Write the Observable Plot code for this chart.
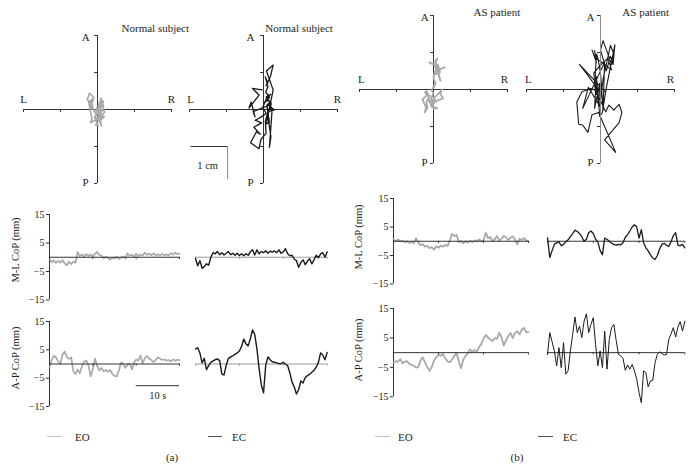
<!DOCTYPE html>
<html>
<head>
<meta charset="utf-8">
<script src="https://cdn.jsdelivr.net/npm/d3@7"></script>
<script src="https://cdn.jsdelivr.net/npm/@observablehq/plot@0.6"></script>
<style>
  html, body { margin:0; padding:0; background:#fff; }
  #fig { position:relative; width:691px; height:470px; overflow:hidden; background:#fff;
         font-family:"Liberation Serif","DejaVu Serif",serif; color:#231f20; }
  #fig .box { position:absolute; }
  #fig .txt { position:absolute; font-size:11px; line-height:11px; white-space:nowrap; }
  #fig .ylab { position:absolute; font-size:10.5px; line-height:11px; white-space:nowrap;
               transform: translate(-50%,-50%) rotate(-90deg); }
  #fig .sw { position:absolute; height:0; }
</style>
</head>
<body>
<div id="fig"></div>
<script>
// ---------------- data (mm, sampled every 0.5 s over 30 s) ----------------
const sampleStep = 0.5;
const timeTicks = [0, 10, 20, 30];
const yTicks = [15, 5, -5, -15];
const stabTicks = [-20, -10, 10, 20];
const stabRange = [-20, 20];
const conditions = ["EO", "EC"];
const panelTags = ["(a)", "(b)"];
const subjects = ["Normal subject", "AS patient"];
const yLabels = ["M-L CoP (mm)", "A-P CoP (mm)"];

const mlNormalEO = [-0.5,-1.8,-1.2,-2.0,-1.3,-1.9,-1.0,-2.2,-2.8,-1.6,-2.4,-1.5,-1.9,
  1.8,0.4,1.0,0.2,1.1,0.5,1.0,0.3,1.2,1.9,0.8,0.6,-0.4,0.2,-0.3,-0.8,-0.1,-0.5,0.2,-0.6,-0.2,0.3,-0.4,
  1.4,0.5,0.9,0.2,1.2,0.4,1.0,0.6,1.6,0.8,1.3,0.7,1.4,0.6,1.1,0.5,1.2,0.7,1.0,0.6,1.5,0.9,1.6,1.1,1.3];
const apNormalEO = [-1.2,1.4,2.9,2.3,0.9,0,3.3,4.4,2.6,1.8, 2.3,-2.6,-3.5,-1.9,-3.3,-0.9,0.9,1.2,-0.5,-4.4,
  -1.8,1.9,-0.7,-2.3,-1.4,-2.6,-2.1,-2.8,-2.1,-3.5, -4.2,-4.4,-2.3,0.5,0,-1.4,-0.2,0.2,-1.9,0.5,
  1.6,1.2,3.0,0.2,2.1,2.8,1.9,1.4,0.7,1.4, 2.3,1.9,1.4,1.6,1.2,1.4,0.9,1.6,1.2,1.5, 1.4];
const mlNormalEC = [-0.4,-3.0,-1.2,-3.9,-3.3,-2.3,-2.8,0,1.6,1.2, 2.0,0.9,1.6,0.8,1.4,2.0,0.9,1.4,0.7,1.4,
  0.6,1.2,0.5,1.2,0.7,1.9,2.6,0.8,2.6,1.2, 2.0,1.6,2.3,1.4,2.1,1.8,2.2,1.6,2.6,1.4,
  1.9,3.0,1.2,0.5,0.7,-0.7,-1.2,-3.5,-1.9,-0.9, -2.6,-1.4,-0.5,-2.3,-0.9,0.7,-0.2,1.2,1.6,0, 1.9];
const apNormalEC = [5.3,5.7,3.9,0.4,2.0,-2.0,-0.6,0.6,1.1,1.5, 1.8,1.2,-3.5,-3.9,-0.4,2.0,2.5,2.9,3.4,3.9,
  4.6,6.2,8.8,7.1,6.4,9.0,12.0,10.4,5.3,-1.8, -7.4,-10.2,-0.4,2.5,1.5,0.8,0.6,0.4,0.1,0.1,
  0.6,-0.1,-0.6,-3.2,-6.4,-8.1,-10.6,-9.0,-6.0,-6.7, -4.8,-4.1,-3.6,-2.9,-2.2,-1.1,0.6,3.9,3.2,1.5, 4.1];
const mlPatientEO = [0.7,0,0.6,0,0.2,-0.3,0,-0.6,-0.2,-0.7, 1.0,-0.3,-1.4,-1.0,-1.9,-1.6,-2.4,-2.0,-3.0,-1.8,
  -2.3,-1.5,-1.9,-1.3,-1.6,0.2,2.6,1.8,2.3,-0.3, 0.1,-0.7,0,-0.5,0.2,-0.3,0.3,-0.1,0.6,0,
  0.3,3.0,1.1,1.5,0,0.7,1.8,0.2,0.9,1.9, 1.4,0.5,1.2,1.7,0.7,-1.1,0.9,0.5,1.1,0.3, -0.1];
const apPatientEO = [-3.3,-2.9,-3.1,-2.2,-3.6,-3.1,-2.9,-3.8,-4.2,-4.4, -5.1,-4.9,-2.7,-1.6,-3.3,-4.9,-6.2,-4.9,-2.7,-1.6,
  -0.7,-1.1,-0.4,-2.0,-2.9,-3.3,-2.4,-1.1,0,-2.9, -5.3,-2.4,-1.1,-0.2,1.1,0.2,0.9,0.4,1.8,2.9,
  4.7,6.0,5.2,4.4,4.0,4.9,4.7,6.7,5.3,2.4, 4.2,5.6,6.7,4.9,6.7,7.3,6.2,7.8,8.4,6.9, 7.1];
const mlPatientEC = [1.2,-5.7,-3.3,-1.1,-0.5,-0.2,-1.6,-1.1,-0.2,0.5, 1.6,2.7,3.9,3.4,2.7,1.6,0,0.7,3.0,3.6,
  2.7,0.7,-0.2,-3.3,-4.8,1.1,0.7,0,-0.7,-1.1, -1.4,-1.1,-1.25,-0.5,1.4,2.3,3.6,5.0,5.8,5.0,
  1.1,4.1,-0.5,-2.3,-3.4,-4.8,-5.9,-6.4,-5.0,-2.7, -1.1,-0.7,-1.4,-1.8,-0.2,2.0,3.0,-1.4,-1.6,-1.1, -2.3];
const apPatientEC = [-0.6,6.8,3.7,0.6,-4.5,1.7,-5.1,3.4,-7.3,-6.2, 0.6,6.2,12.1,6.8,9.0,5.1,10.7,13.2,6.8,9.6,
  11.9,2.8,-4.5,0.6,-5.1,7.3,-5.6,4.5,8.5,9.6, 4.2,-0.6,-1.1,-1.9,-6.0,-4.2,-5.6,-4.0,-6.2,-9.0,
  -13.6,-17.0,-6.2,-6.8,-11.6,-9.6,-9.4,-3.4,-0.6,0.3, -0.3,-0.8,-0.6,4.5,6.4,8.5,5.3,8.7,10.5,7.3, 10.7];

const times = mlNormalEO.map((_, i) => i * sampleStep);

// ---------------- helpers ----------------
const FONT = '"Liberation Serif","DejaVu Serif",serif';
const INK = "#231f20";
const EO_COLOR = "#a7a9ac";
const EC_COLOR = "#1a1a1a";
const fig = document.getElementById("fig");

function place(svg, left, top, w) {
  const d = document.createElement("div");
  d.className = "box";
  d.style.left = left + "px";
  d.style.top = top + "px";
  d.style.width = w + "px";
  d.appendChild(svg);
  fig.appendChild(d);
}
function baseStyle() {
  return {background: "transparent", fontFamily: FONT, fontSize: "10px", color: INK, overflow: "visible", maxWidth: "none"};
}

function seriesPlot(values, o) {
  const ml = o.yAxis ? 40 : 4, mr = 4, mt = 8, mb = 8;
  const rows = values.map((v, i) => ({t: times[i], v}));
  const zero = [
    Plot.ruleY([0], {x1: timeTicks[0], x2: timeTicks[timeTicks.length - 1], stroke: o.zeroColor, strokeWidth: 1}),
    Plot.ruleX(timeTicks, {x: d => d, y1: 0, y2: -0.75, stroke: o.zeroColor, strokeWidth: 1})
  ];
  const trace = Plot.line(rows, {x: "t", y: "v", stroke: o.color, strokeWidth: o.width, strokeLinejoin: "round"});
  const marks = o.zeroOnTop ? [trace, ...zero] : [...zero, trace];
  if (o.yAxis) {
    marks.unshift(Plot.ruleX([0], {y1: yTicks[yTicks.length - 1], y2: yTicks[0], stroke: "#333", strokeWidth: 1}));
    marks.push(Plot.axisY({ticks: yTicks, anchor: "left", tickSize: 3, tickPadding: 2, label: null, stroke: "#333"}));
  }
  if (o.extra) marks.push(...o.extra);
  const W = ml + o.w + mr, H = mt + o.h + mb;
  const svg = Plot.plot({
    width: W, height: H,
    marginLeft: ml, marginRight: mr, marginTop: mt, marginBottom: mb,
    x: {domain: [0, 30], axis: null},
    y: o.yAxis ? {domain: [-15, 15]} : {domain: [-15, 15], axis: null},
    style: baseStyle(),
    marks
  });
  place(svg, o.left - ml, o.top - mt, W);
}

function stabPlot(mlv, apv, o) {
  const m = 26, S = 148;
  const rows = mlv.map((x, i) => ({x, y: apv[i]}));
  const [lo, hi] = stabRange;
  const axes = [
    Plot.ruleY([0], {x1: lo, x2: hi, stroke: "#333", strokeWidth: 1}),
    Plot.ruleX(stabTicks, {x: d => d, y1: 0, y2: -0.8, stroke: "#333", strokeWidth: 1}),
    Plot.ruleY(stabTicks, {y: d => d, x1: 0, x2: -0.8, stroke: "#333", strokeWidth: 1})
  ];
  const vAxis = Plot.ruleX([0], {y1: lo, y2: hi, stroke: o.vColor || "#333", strokeWidth: 1});
  const trace = Plot.line(rows, {x: "x", y: "y", stroke: o.color, strokeWidth: o.width, strokeLinejoin: "round"});
  const marks = o.vOnTop ? [...axes, trace, vAxis] : [...axes, vAxis, trace];
  marks.push(
    Plot.text(o.labels, {x: "x", y: "y", text: "text", fontSize: 11, fill: INK}),
    Plot.text([o.title], {x: "x", y: "y", text: "text", textAnchor: "start", fontSize: 11, fill: INK})
  );
  if (o.extra) marks.push(...o.extra);
  const svg = Plot.plot({
    width: S + 2 * m, height: S + 2 * m, margin: m,
    x: {domain: stabRange, axis: null},
    y: {domain: stabRange, axis: null},
    style: baseStyle(),
    marks
  });
  place(svg, o.left - m, o.top - m, S + 2 * m);
}

function dirLabels(ax, lx, rx, ly) {
  return [{x: ax, y: 19.5, text: "A"}, {x: ax, y: -19.6, text: "P"},
          {x: lx, y: ly, text: "L"}, {x: rx, y: ly, text: "R"}];
}

// ---------------- stabilograms ----------------
stabPlot(mlNormalEO, apNormalEO, {left: 23, top: 34.5, color: EO_COLOR, width: 1.7,
  labels: dirLabels(-3.2, -20, 20, 2.8), title: {x: 6.5, y: 21.8, text: subjects[0]}});
const cmBar = [{x1: -19.6, x2: -9.7, y: -10}];
const cmBarV = [{x: -9.7, y1: -10, y2: -19}];
stabPlot(mlNormalEC, apNormalEC, {left: 189.3, top: 34.5, color: EC_COLOR, width: 1.3,
  labels: dirLabels(-3.5, -19.7, 20, 2.8), title: {x: 0.5, y: 21.8, text: subjects[0]},
  extra: [
    Plot.ruleY(cmBar, {x1: "x1", x2: "x2", y: "y", stroke: "#333", strokeWidth: 1}),
    Plot.ruleX(cmBarV, {x: "x", y1: "y1", y2: "y2", stroke: "#888", strokeWidth: 1}),
    Plot.text([{x: -15.1, y: -15.3, text: "1 cm"}], {x: "x", y: "y", text: "text", fontSize: 10.5, fill: INK})
  ]});
stabPlot(mlPatientEO, apPatientEO, {left: 359, top: 15, color: EO_COLOR, width: 1.8,
  labels: dirLabels(-2.4, -19.5, 19.2, 2.6), title: {x: 10.8, y: 20.8, text: subjects[1]}});
stabPlot(mlPatientEC, apPatientEC, {left: 526, top: 15, color: EC_COLOR, width: 1.1, vColor: "#8a8a8a", vOnTop: true,
  labels: dirLabels(-2.7, -19.5, 18.9, 2.6), title: {x: 5.9, y: 20.8, text: subjects[1]}});

// ---------------- time series ----------------
seriesPlot(mlNormalEO, {left: 49, top: 214, w: 130, h: 85.5, color: EO_COLOR, width: 1.7, zeroColor: "#333", zeroOnTop: true, yAxis: true});
seriesPlot(mlNormalEC, {left: 195, top: 214, w: 131.7, h: 85.5, color: EC_COLOR, width: 1.4, zeroColor: "#9a9a9a"});
seriesPlot(apNormalEO, {left: 49, top: 320.7, w: 130, h: 85, color: EO_COLOR, width: 1.7, zeroColor: "#333", zeroOnTop: true, yAxis: true,
  extra: [
    Plot.ruleY([{x1: 20, x2: 30, y: -7.65}], {x1: "x1", x2: "x2", y: "y", stroke: "#333", strokeWidth: 1}),
    Plot.text([{x: 25, y: -11.3, text: "10 s"}], {x: "x", y: "y", text: "text", fontSize: 10.5, fill: INK})
  ]});
seriesPlot(apNormalEC, {left: 195, top: 320.7, w: 131.7, h: 85, color: EC_COLOR, width: 1.4, zeroColor: "#9a9a9a"});

seriesPlot(mlPatientEO, {left: 393, top: 197.7, w: 135, h: 85.5, color: EO_COLOR, width: 1.8, zeroColor: "#333", zeroOnTop: true, yAxis: true});
seriesPlot(mlPatientEC, {left: 546.7, top: 197.7, w: 137.3, h: 85.5, color: EC_COLOR, width: 1.3, zeroColor: "#333"});
seriesPlot(apPatientEO, {left: 393, top: 307.7, w: 135, h: 88.3, color: EO_COLOR, width: 1.8, zeroColor: "#333", zeroOnTop: true, yAxis: true});
seriesPlot(apPatientEC, {left: 546.7, top: 307.7, w: 137.3, h: 88.3, color: EC_COLOR, width: 1.0, zeroColor: "#333"});

// ---------------- html text: y labels, legends, panel tags ----------------
function addText(cls, text, x, y, anchor) {
  const d = document.createElement("div");
  d.className = cls;
  d.textContent = text;
  d.style.left = x + "px";
  d.style.top = y + "px";
  if (cls === "txt") d.style.transform = anchor === "middle" ? "translate(-50%,-50%)" : "translate(0,-50%)";
  fig.appendChild(d);
}
function swatch(x1, x2, y, color) {
  const d = document.createElement("div");
  d.className = "sw";
  d.style.left = x1 + "px";
  d.style.top = (y - 0.75) + "px";
  d.style.width = (x2 - x1) + "px";
  d.style.borderTop = "1.5px solid " + color;
  fig.appendChild(d);
}
addText("ylab", yLabels[0], 15, 250);
addText("ylab", yLabels[1], 15, 358);
addText("ylab", yLabels[0], 358, 237);
addText("ylab", yLabels[1], 358, 350);

swatch(47, 62, 437, "#c4c4c4"); addText("txt", conditions[0], 75, 437, "start");
swatch(208, 222, 437, "#4d4d4d"); addText("txt", conditions[1], 232, 437, "start");
swatch(375, 390, 437, "#c4c4c4"); addText("txt", conditions[0], 398, 437, "start");
swatch(538, 553, 437, "#4d4d4d"); addText("txt", conditions[1], 563, 437, "start");
addText("txt", panelTags[0], 172, 457, "middle");
addText("txt", panelTags[1], 517, 457, "middle");
</script>
</body>
</html>
